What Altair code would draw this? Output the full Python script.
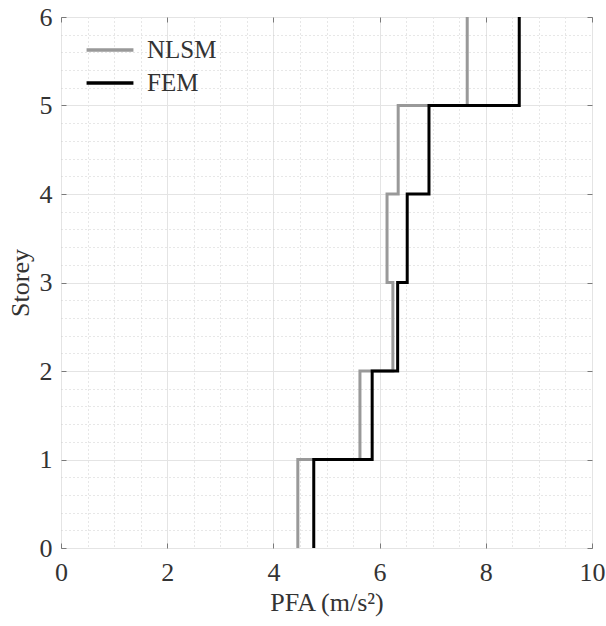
import altair as alt
import pandas as pd

# Peak floor acceleration per storey (value holds from storey i to i+1)
storeys = [0, 1, 2, 3, 4, 5, 6]
nlsm_pfa = [4.46, 5.63, 6.25, 6.14, 6.35, 7.65]
fem_pfa = [4.76, 5.86, 6.34, 6.52, 6.93, 8.63]
series_names = ["NLSM", "FEM"]
series_colors = ["#999999", "#000000"]

x_ticks = [0, 2, 4, 6, 8, 10]
y_ticks = [0, 1, 2, 3, 4, 5, 6]
x_grid = [i * 0.5 for i in range(21)]
y_grid = [round(i * 0.2, 1) for i in range(31)]

# Build the vertical step profile: each value spans one storey
rows = []
for name, vals in zip(series_names, [nlsm_pfa, fem_pfa]):
    k = 0
    for i, v in enumerate(vals):
        rows.append({"series": name, "pfa": v, "storey": storeys[i], "k": k})
        k += 1
        rows.append({"series": name, "pfa": v, "storey": storeys[i + 1], "k": k})
        k += 1
df = pd.DataFrame(rows)

W, H = 531, 531
FONT = "Liberation Serif, Times New Roman, serif"
TXT = "#333333"
FRAME = "#7a7a7a"
xs = alt.Scale(domain=[0, 10], nice=False, zero=False)
ys = alt.Scale(domain=[0, 6], nice=False, zero=False)

x_major = "datum.value % 2 === 0"
y_major = "abs(datum.value - round(datum.value)) < 0.001"

x_axis = alt.Axis(
    values=x_grid, ticks=False, domain=False, grid=True,
    gridColor={"condition": {"test": x_major, "value": "#e4e4e4"}, "value": "#cfcfcf"},
    gridDash={"condition": {"test": x_major, "value": []}, "value": [1, 3]},
    gridWidth=1,
    labelExpr=f"{x_major} ? format(datum.value, 'd') : ''",
    labelOverlap=False, labelFlush=False, labelFont=FONT, labelFontSize=26,
    labelColor=TXT, labelPadding=11,
    title="PFA (m/s²)", titleFont=FONT, titleFontSize=26, titleFontWeight="normal",
    titleColor=TXT, titleX=W / 2, titleY=62, titleAlign="center",
    titleBaseline="alphabetic",
)
y_axis = alt.Axis(
    values=y_grid, ticks=False, domain=False, grid=True,
    gridColor={"condition": {"test": y_major, "value": "#e4e4e4"}, "value": "#cfcfcf"},
    gridDash={"condition": {"test": y_major, "value": []}, "value": [1, 3]},
    gridWidth=1,
    labelExpr=f"{y_major} ? format(datum.value, 'd') : ''",
    labelOverlap=False, labelFlush=False, labelFont=FONT, labelFontSize=26,
    labelColor=TXT, labelPadding=9,
    title="Storey", titleFont=FONT, titleFontSize=26, titleFontWeight="normal",
    titleColor=TXT, titleX=-41, titleY=H / 2, titleAlign="center",
    titleBaseline="middle", titleAngle=270,
)

# Wide, flat line symbol so the rows stay compact
legend_symbol = "M-1.3,0H1.3"

lines = alt.Chart(df).mark_line(strokeWidth=3, strokeJoin="miter", strokeCap="butt", clip=True).encode(
    x=alt.X("pfa:Q", scale=xs, axis=x_axis),
    y=alt.Y("storey:Q", scale=ys, axis=y_axis),
    color=alt.Color(
        "series:N",
        scale=alt.Scale(domain=series_names, range=series_colors),
        legend=alt.Legend(
            title=None, orient="none", legendX=29, legendY=13,
            symbolType=legend_symbol, symbolSize=1300, symbolStrokeWidth=3.5,
            labelFont=FONT, labelFontSize=25, labelColor=TXT, labelOffset=17,
            rowPadding=0, padding=0,
        ),
    ),
    order="k:Q",
)


def tick_axis(orient, values, offset):
    return alt.Axis(
        orient=orient, values=values, offset=offset, labels=False, grid=False,
        domain=False, ticks=True, tickSize=5, tickColor=FRAME, title=None,
    )


# Inward ticks along the four edges of the frame
ticks_a = alt.Chart(df).mark_point(opacity=0).encode(
    x=alt.X("pfa:Q", scale=xs, axis=tick_axis("top", x_ticks, -H)),
    y=alt.Y("storey:Q", scale=ys, axis=tick_axis("right", y_ticks, -W)),
)
ticks_b = alt.Chart(df).mark_point(opacity=0).encode(
    x=alt.X("pfa:Q", scale=xs, axis=tick_axis("bottom", x_ticks, -H)),
    y=alt.Y("storey:Q", scale=ys, axis=tick_axis("left", y_ticks, -W)),
)

chart = (
    alt.layer(lines, ticks_a, ticks_b)
    .resolve_axis(x="independent", y="independent")
    .properties(
        width=W, height=H,
        autosize=alt.AutoSizeParams(type="none"),
        padding={"left": 61, "top": 17, "right": 14, "bottom": 78},
        background="white",
    )
    .configure_view(stroke=FRAME, strokeWidth=1)
)

chart.save("out.html", embed_options={"renderer": "svg", "actions": False})
